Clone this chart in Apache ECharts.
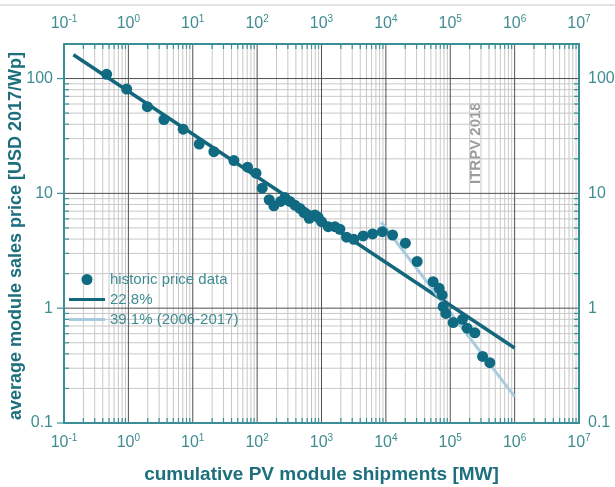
<!DOCTYPE html>
<html><head><meta charset="utf-8">
<script src="https://cdn.jsdelivr.net/npm/echarts@6/dist/echarts.min.js"></script>
<style>html,body{margin:0;padding:0;background:#fff}#c{width:615px;height:487px}</style>
</head><body><div id="c"></div>
<script>
// ---- data ----
const shipmentsMW = [0.46, 0.94, 1.97, 3.57, 7.1, 12.6, 21.3, 43.6, 71, 96, 120, 154, 182, 232, 270, 323, 386, 462, 533, 645, 790, 889, 1000, 1270, 1610, 1930, 2450, 3180, 4440, 6210, 8830, 12700, 20100, 30600, 54200, 67300, 74900, 77600, 85500, 111000, 155000, 183000, 241000, 318000, 412000];
const priceUSD    = [109, 81, 56.9, 43.9, 36.2, 26.9, 23.1, 19.3, 16.9, 15.0, 11.1, 8.8, 7.8, 8.5, 9.2, 8.5, 7.9, 7.4, 6.8, 6.07, 6.48, 6.19, 5.67, 5.13, 5.13, 4.87, 4.15, 3.98, 4.26, 4.43, 4.64, 4.34, 3.68, 2.55, 1.70, 1.49, 1.30, 1.03, 0.90, 0.75, 0.80, 0.67, 0.61, 0.38, 0.335];
const fit228X = [0.14, 1e6];
const fit228Y = [161, 0.45];
const fit391X = [8500, 1e6];
const fit391Y = [5.6, 0.17];
const xTickValues = [0.1, 1, 10, 100, 1e3, 1e4, 1e5, 1e6, 1e7];
const yTickValues = [0.1, 1, 10, 100];
const legendNames = ['historic price data', '22.8%', '39.1% (2006-2017)'];
const xTitle = 'cumulative PV module shipments [MW]';
const yTitle = 'average module sales price [USD 2017/Wp]';
const watermark = 'ITRPV 2018';

const X_MIN = 0.1, X_MAX = 1e7, Y_MIN = 0.1, Y_MAX = 200;
const TEAL = '#3a8f96', DARK = '#13667c', LIGHT = '#a8cbdd', LABEL = '#3f8c93', TITLE = '#1d6f7e';
const FONT = 'Liberation Sans, Arial, sans-serif';

// grid lines (decade + 2..9 minor) built from the axis ranges
const gridItems = [];
for (let e = -1; e < 7; e++) for (let m = 1; m < 10; m++) gridItems.push([m * Math.pow(10, e), 1, 0, m === 1 ? 1 : 0]);
for (let e = -1; e < 3; e++) for (let m = 1; m < 10; m++) { const v = m * Math.pow(10, e); if (v >= Y_MAX) break; gridItems.push([1, v, 1, m === 1 ? 1 : 0]); }

function renderGrid(params, api) {
  const cs = params.coordSys;
  const dir = api.value(2), major = api.value(3);
  const L = cs.x, R = cs.x + cs.width, T = cs.y, B = cs.y + cs.height;
  const kids = [];
  const gridStyle = { stroke: major ? '#505050' : '#c8c8c8', lineWidth: 1 };
  const tickStyle = { stroke: TEAL, lineWidth: 1.2 };
  if (dir === 0) {
    const x = api.coord([api.value(0), 1])[0];
    if (x > L + 1 && x < R - 1) kids.push({ type: 'line', z2: major ? 2 : 1, shape: { x1: x, y1: T, x2: x, y2: B }, style: gridStyle });
    if (!major) {
      kids.push({ type: 'line', z2: 3, shape: { x1: x, y1: B, x2: x, y2: B - 5 }, style: tickStyle });
      kids.push({ type: 'line', z2: 3, shape: { x1: x, y1: T, x2: x, y2: T + 5 }, style: tickStyle });
    }
  } else {
    const y = api.coord([1, api.value(1)])[1];
    if (y > T + 1 && y < B - 1) kids.push({ type: 'line', z2: major ? 2 : 1, shape: { x1: L, y1: y, x2: R, y2: y }, style: gridStyle });
    if (!major) {
      kids.push({ type: 'line', z2: 3, shape: { x1: L, y1: y, x2: L + 5, y2: y }, style: tickStyle });
      kids.push({ type: 'line', z2: 3, shape: { x1: R, y1: y, x2: R - 5, y2: y }, style: tickStyle });
    } else {
      kids.push({ type: 'line', z2: 3, shape: { x1: L - 7, y1: y, x2: L, y2: y }, style: tickStyle });
    }
  }
  return { type: 'group', children: kids };
}

const powLabel = v => {
  const e = Math.round(Math.log10(v));
  return '{b|10}{s|' + e + '}';
};
const xLabel = {
  customValues: xTickValues,
  formatter: powLabel,
  margin: 10,
  rich: {
    b: { fontSize: 16, color: LABEL, fontFamily: FONT, lineHeight: 20 },
    s: { fontSize: 10, color: LABEL, fontFamily: FONT, lineHeight: 12, verticalAlign: 'top' }
  }
};
const yLabelFmt = v => (v >= 1 ? String(Math.round(v)) : String(v));
const axisLine = { show: true, lineStyle: { color: TEAL, width: 2 } };
const lineIcon = 'path://M0,0H36V3H0Z';

const option = {
  backgroundColor: '#fff',
  animation: false,
  grid: { left: 64, right: 36, top: 44, bottom: 64, containLabel: false, outerBoundsMode: 'none' },
  xAxis: [
    { type: 'log', logBase: 10, min: X_MIN, max: X_MAX, position: 'bottom', z: 10,
      axisLine, axisTick: { show: false }, splitLine: { show: false }, axisLabel: xLabel,
      name: xTitle, nameLocation: 'middle', nameGap: 42,
      nameTextStyle: { color: TITLE, fontSize: 19, fontWeight: 'bold', fontFamily: FONT } },
    { type: 'log', logBase: 10, min: X_MIN, max: X_MAX, position: 'top', z: 10,
      axisLine, axisTick: { show: false }, splitLine: { show: false }, axisLabel: xLabel }
  ],
  yAxis: [
    { type: 'log', logBase: 10, min: Y_MIN, max: Y_MAX, position: 'left', z: 10,
      axisLine, axisTick: { show: false }, splitLine: { show: false },
      axisLabel: { customValues: yTickValues, formatter: yLabelFmt, margin: 11, color: LABEL, fontSize: 16, fontFamily: FONT } },
    { type: 'log', logBase: 10, min: Y_MIN, max: Y_MAX, position: 'right', z: 10,
      axisLine, axisTick: { show: false }, splitLine: { show: false },
      axisLabel: { customValues: yTickValues, formatter: yLabelFmt, margin: 9, color: LABEL, fontSize: 16, fontFamily: FONT } }
  ],
  legend: {
    left: 64, top: 267, orient: 'vertical', itemWidth: 36, itemHeight: 11, itemGap: 5,
    textStyle: { color: LABEL, fontSize: 15, fontFamily: FONT },
    data: [
      { name: legendNames[0], icon: 'circle' },
      { name: legendNames[1], icon: lineIcon },
      { name: legendNames[2], icon: lineIcon }
    ]
  },
  graphic: [
    { type: 'line', silent: true, shape: { x1: 0, y1: 5, x2: 615, y2: 5 }, style: { stroke: '#e2e2e2', lineWidth: 2 } },
    { type: 'text', x: 476, y: 184, rotation: Math.PI / 2,
      style: { text: watermark, fill: '#9c9c9c', font: 'bold 15px ' + FONT, textAlign: 'left', textVerticalAlign: 'middle' } },
    { type: 'text', x: 16, y: 236, rotation: Math.PI / 2,
      style: { text: yTitle, fill: TITLE, font: 'bold 18px ' + FONT, textAlign: 'center', textVerticalAlign: 'middle' } }
  ],
  series: [
    { type: 'custom', name: 'grid', silent: true, z: 1, renderItem: renderGrid, data: gridItems, clip: false, legendHoverLink: false },
    { type: 'line', name: legendNames[1], z: 3, symbol: 'none', data: fit228X.map((x, i) => [x, fit228Y[i]]),
      lineStyle: { color: DARK, width: 3.5 }, itemStyle: { color: DARK } },
    { type: 'line', name: legendNames[2], z: 3, symbol: 'none', data: fit391X.map((x, i) => [x, fit391Y[i]]),
      lineStyle: { color: LIGHT, width: 3 }, itemStyle: { color: LIGHT } },
    { type: 'scatter', name: legendNames[0], z: 4, symbolSize: 11, data: shipmentsMW.map((x, i) => [x, priceUSD[i]]),
      itemStyle: { color: '#0f6a82', opacity: 1 } }
  ]
};
const chart = echarts.init(document.getElementById('c'), null, { renderer: 'canvas' });
chart.setOption(option);
</script></body></html>
